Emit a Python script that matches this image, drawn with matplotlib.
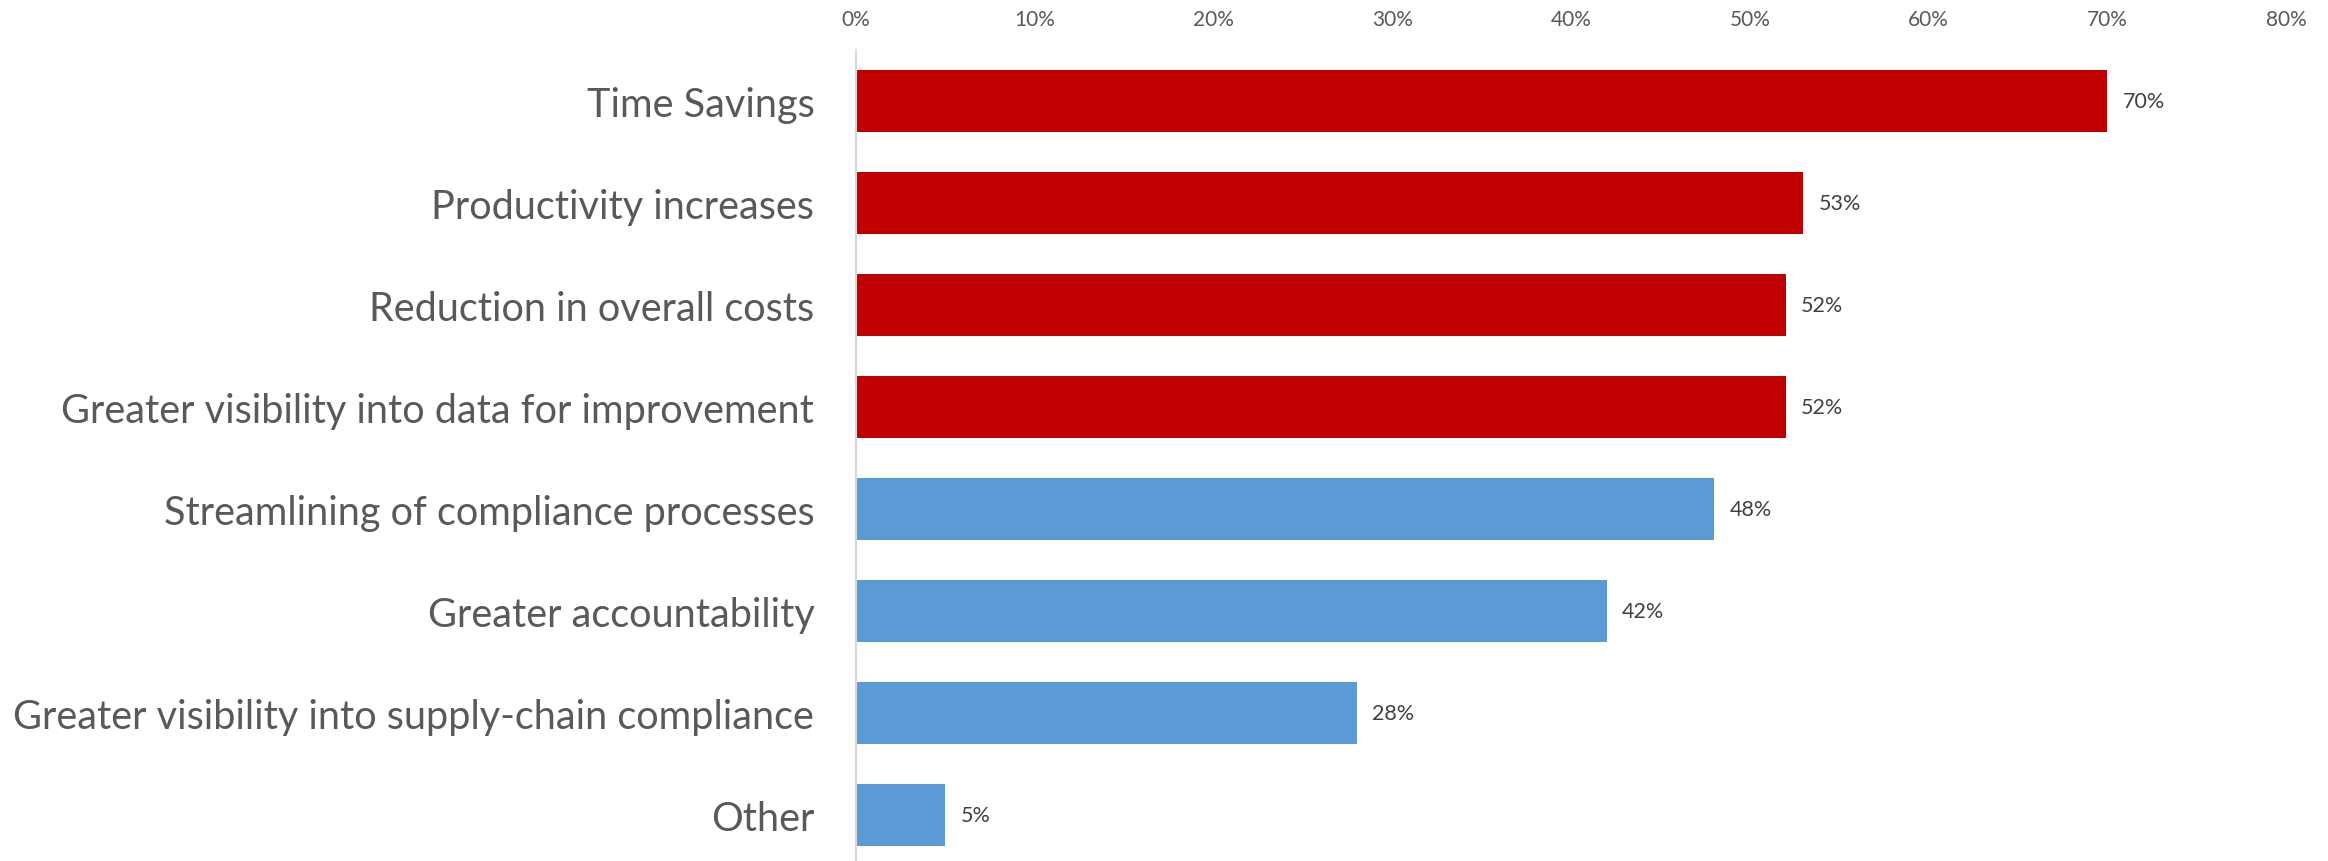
import matplotlib
matplotlib.use("Agg")
import matplotlib.pyplot as plt
from matplotlib.ticker import FuncFormatter

categories = [
    "Time Savings",
    "Productivity increases",
    "Reduction in overall costs",
    "Greater visibility into data for improvement",
    "Streamlining of compliance processes",
    "Greater accountability",
    "Greater visibility into supply-chain compliance",
    "Other",
]
values = [70, 53, 52, 52, 48, 42, 28, 5]
highlight = [True, True, True, True, False, False, False, False]
x_ticks = [0, 10, 20, 30, 40, 50, 60, 70, 80]

RED = "#C00000"
BLUE = "#5B9BD5"
TEXT = "#595959"
FONT = ["Lato", "DejaVu Sans"]

W, H = 2328, 862
fig = plt.figure(figsize=(W / 100, H / 100), dpi=100)
left, right, top = 856, 2286, 51
ax = fig.add_axes([left / W, 0, (right - left) / W, (H - top) / H])

ypos = list(range(len(categories)))
colors = [RED if h else BLUE for h in highlight]
bars = ax.barh(ypos, values, height=0.6, color=colors)

ax.set_xlim(0, 80)
ax.set_ylim((H - top) / 102 - 0.5, -0.5)
ax.set_yticks(ypos)
ax.set_yticklabels(categories, fontsize=28.5, color=TEXT, family=FONT)
ax.set_xticks(x_ticks)
ax.xaxis.set_major_formatter(FuncFormatter(lambda v, _: f"{v:.0f}%"))
ax.xaxis.tick_top()
ax.tick_params(axis="x", length=0, pad=15, labelsize=15, labelcolor=TEXT)
ax.tick_params(axis="y", length=0, pad=30)
for lbl in ax.get_xticklabels():
    lbl.set_family(FONT)

for s in ["top", "right", "bottom"]:
    ax.spines[s].set_visible(False)
ax.spines["left"].set_color("#D9D9D9")
ax.spines["left"].set_linewidth(1.5)

for b, v in zip(bars, values):
    ax.annotate(f"{v}%", (b.get_width(), b.get_y() + b.get_height() / 2),
                xytext=(11, 0), textcoords="offset points",
                va="center", ha="left", fontsize=15.5, color="#404040", family=FONT)

fig.savefig("out.png", dpi=100, facecolor="white")
